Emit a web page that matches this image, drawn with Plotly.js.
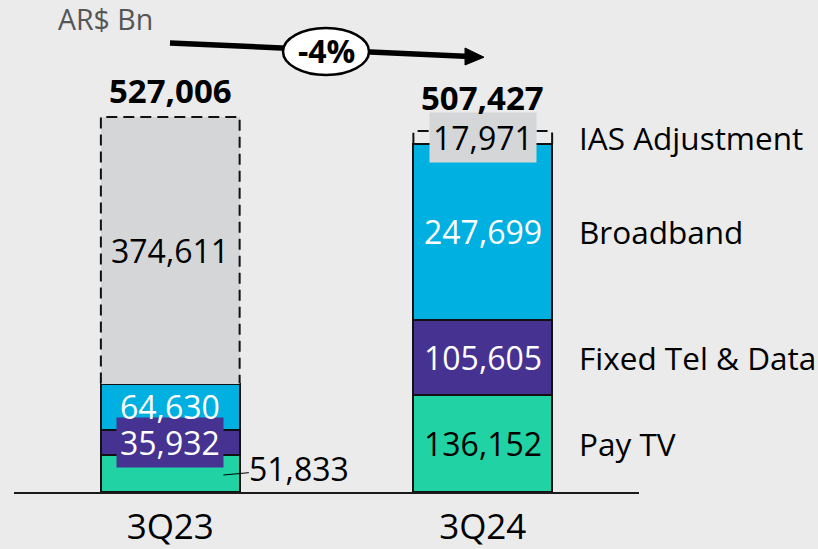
<!DOCTYPE html>
<html>
<head>
<meta charset="utf-8">
<script src="https://cdn.plot.ly/plotly-3.0.1.min.js"></script>
<style>html,body{margin:0;padding:0;background:#ebebeb;}</style>
</head>
<body>
<div id="chart" style="width:818px;height:549px;"></div>
<script>
// ---- data ----
const categories = ["3Q23", "3Q24"];
const seriesNames = ["Pay TV", "Fixed Tel & Data", "Broadband", "IAS Adjustment"];
const payTV = [51833, 136152];
const fixedTel = [35932, 105605];
const broadband = [64630, 247699];
const iasAdj = [374611, 17971];
const totals = [527006, 507427];
const changeLabel = "-4%";
const unitLabel = "AR$ Bn";

// ---- styles ----
const FONT = "Open Sans, Noto Sans, sans-serif";
const BG = "#ebebeb";
const colors = ["#21d3a4", "#463291", "#00b0e1", "#d5d6d8"];
const W = 818, H = 549, BOTTOM = 57;
const PH = H - BOTTOM;
const BW = 0.444;
const YMAX = PH * 1405.35;
const fmt = v => v.toLocaleString("en-US");
const px = x => x / W;
const py = y => (PH - y) / PH;

const xs = categories.map((c, i) => i);
const series = [payTV, fixedTel, broadband, iasAdj];

const traces = [];
series.forEach((vals, s) => {
  const isIAS = s === 3;
  traces.push({
    type: "bar", x: xs, y: vals, name: seriesNames[s], width: BW,
    marker: {
      color: isIAS ? [colors[3], "rgba(0,0,0,0)"] : colors[s],
      line: {color: "#111", width: isIAS ? 0 : 2}
    },
    hoverinfo: "skip", showlegend: false
  });
});

// bases of each series
const bases = series.map((vals, s) => vals.map((v, i) => {
  let b = 0; for (let k = 0; k < s; k++) b += series[k][i]; return b;
}));

// dashed outline for IAS segments
xs.forEach(i => {
  const b = bases[3][i], t = b + iasAdj[i];
  traces.push({
    type: "scatter", mode: "lines",
    x: [i - BW/2, i - BW/2, i + BW/2, i + BW/2],
    y: [b, t, t, b],
    line: {color: "#111", width: 2, dash: "11px,6px"},
    hoverinfo: "skip", showlegend: false
  });
});

const annotations = [];
// segment labels
const labelStyle = [
  [{c: "#000", bg: null, outside: true}, {c: "#000", bg: null}],
  [{c: "#fff", bg: colors[1]}, {c: "#fff", bg: null}],
  [{c: "#fff", bg: null}, {c: "#fff", bg: null}],
  [{c: "#000", bg: null}, {c: "#000", bg: colors[3]}]
];
series.forEach((vals, s) => {
  vals.forEach((v, i) => {
    const st = labelStyle[s][i];
    const a = {
      x: i, y: bases[s][i] + v / 2, xref: "x", yref: "y",
      xanchor: "center", yanchor: "middle",
      text: fmt(v), showarrow: false,
      font: {family: FONT, size: 32, color: st.c},
      borderpad: 0
    };
    if (st.bg) { a.bgcolor = st.bg; a.borderpad = 3; }
    if (st.outside) {
      a.x = i + 0.17; a.y = bases[s][i] + v * 0.46;
      a.showarrow = true; a.arrowhead = 0; a.arrowwidth = 1; a.arrowcolor = "#000";
      a.ax = 76; a.ay = -7; a.standoff = 0;
      delete a.xanchor; delete a.yanchor;
    }
    annotations.push(a);
  });
});
// totals
const totalShift = [2, 9];
totals.forEach((t, i) => {
  annotations.push({
    x: i, y: t, xref: "x", yref: "y", yanchor: "bottom", xanchor: "center", yshift: totalShift[i],
    text: "<b>" + fmt(t) + "</b>", showarrow: false,
    font: {family: FONT, size: 33, color: "#000"}
  });
});
// right-hand series labels, at segment centres of last bar
const last = xs.length - 1;
series.forEach((vals, s) => {
  annotations.push({
    x: px(577), xref: "paper", xanchor: "left",
    y: bases[s][last] + vals[last] / 2, yref: "y", yanchor: "middle",
    text: seriesNames[s], showarrow: false,
    font: {family: FONT, size: 31.5, color: "#000"}
  });
});
// unit label
annotations.push({
  x: px(56), y: py(19), xref: "paper", yref: "paper", xanchor: "left", yanchor: "middle",
  text: unitLabel, showarrow: false, font: {family: FONT, size: 28.5, color: "#555"}
});
// change label
annotations.push({
  x: px(326), y: py(50), xref: "paper", yref: "paper", xanchor: "center", yanchor: "middle",
  text: "<b>" + changeLabel + "</b>", showarrow: false,
  font: {family: FONT, size: 32, color: "#000"}
});

const shapes = [
  {type: "line", xref: "paper", yref: "paper",
   x0: px(170), y0: py(43), x1: px(470), y1: py(56.4),
   line: {color: "#000", width: 5.5}},
  {type: "path", xref: "paper", yref: "paper",
   path: `M${px(465)},${py(48)} L${px(484)},${py(57.2)} L${px(465)},${py(65)} Z`,
   fillcolor: "#000", line: {color: "#000", width: 1}},
  {type: "circle", xref: "paper", yref: "paper",
   x0: px(283), x1: px(369), y0: py(28), y1: py(75),
   fillcolor: "#fff", line: {color: "#000", width: 2.5}}
];

const layout = {
  width: W, height: H,
  margin: {l: 0, r: 0, t: 0, b: BOTTOM, pad: 0},
  paper_bgcolor: BG, plot_bgcolor: BG,
  barmode: "stack", showlegend: false,
  xaxis: {
    domain: [px(14), px(639)], range: [-0.5, 1.5],
    tickvals: xs, ticktext: categories, ticks: "",
    ticklabelstandoff: 3,
    tickfont: {family: FONT, size: 35, color: "#000"},
    showline: true, linecolor: "#1a1a1a", linewidth: 2,
    showgrid: false, zeroline: false, fixedrange: true
  },
  yaxis: {range: [0, YMAX], visible: false, fixedrange: true},
  annotations, shapes
};

Plotly.newPlot("chart", traces, layout, {staticPlot: true, displayModeBar: false});
</script>
</body>
</html>
